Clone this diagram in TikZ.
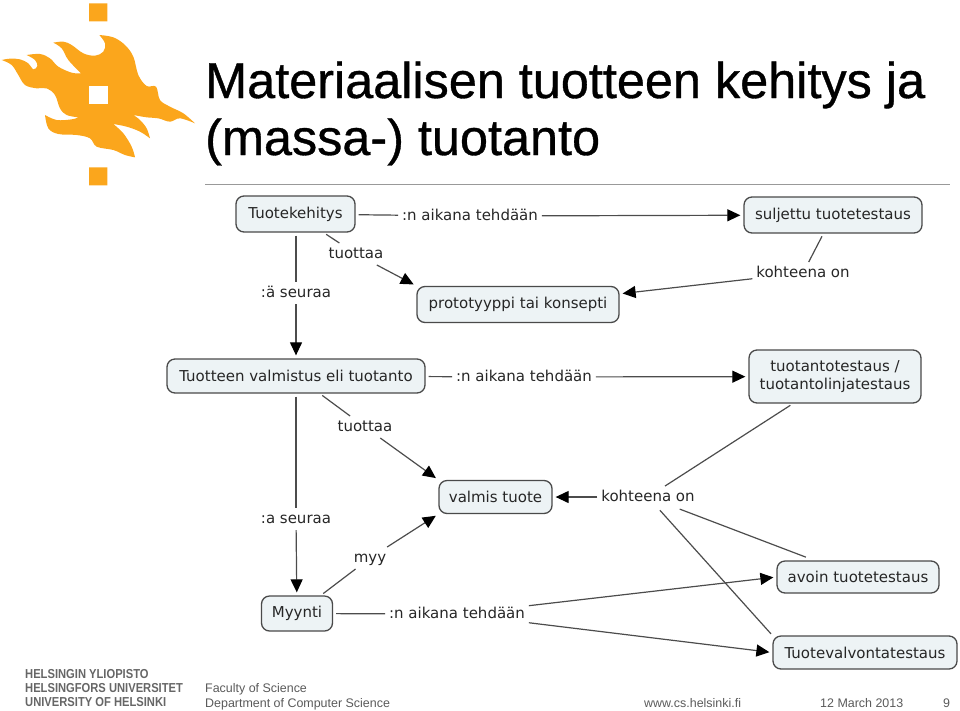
\documentclass[tikz,border=0pt]{standalone}
\usepackage{fontspec}
\setmainfont{Liberation Sans}
\newfontfamily\mapfont{DejaVu Sans}
\newfontfamily\headfont[FakeBold=0.7]{Liberation Sans}
\newfontfamily\unifont[FakeStretch=0.86]{Liberation Sans Bold}
\usetikzlibrary{arrows.meta}
\definecolor{flame}{HTML}{FBA61C}
\definecolor{boxfill}{HTML}{EDF3F5}
\definecolor{boxline}{HTML}{4A4A4A}
\definecolor{footgrey}{HTML}{5A5A5A}
\tikzset{
	concept/.style={draw=boxline,fill=boxfill,line width=1.3pt,rounded corners=8pt,inner sep=0pt,text=black!85,font=\mapfont\fontsize{15}{18}\selectfont,align=center},
	linkword/.style={inner sep=2pt,outer sep=2pt,yshift=-1pt,text=black!85,text height=11pt,text depth=3pt,font=\mapfont\fontsize{15}{18}\selectfont},
	link/.style={draw=black!70,line width=1.2pt,shorten <=3pt},
	linkto/.style={link,->,shorten <=0pt,shorten >=3pt},
	foot/.style={anchor=base west,inner sep=0pt,text=footgrey,font=\fontsize{12.45}{14}\selectfont},
	uni/.style={anchor=base west,inner sep=0pt,text=black!60,font=\unifont\fontsize{13}{14}\selectfont},
	heading/.style={anchor=base west,inner sep=0pt,font=\headfont\fontsize{50.4}{60}\selectfont}
}
\begin{document}
\begin{tikzpicture}[x=1pt,y=-1pt,>={Stealth[length=13pt,width=12pt,inset=0pt,black]},line join=round]
	\useasboundingbox (0,0) rectangle (960,710);
	% logo
	\begin{scope}[scale=1/3]
		\fill[flame] (267,10) rectangle (322,64) (267,502) rectangle (322,556);
		\fill[flame] plot[smooth,tension=.6] coordinates{(5,180)(30,176)(60,178)(85,190)(100,208)(112,198)(105,180)(80,165)}
			-- plot[smooth,tension=.6] coordinates{(80,165)(120,162)(150,175)(175,200)(215,218)(243,220)}
			-- plot[smooth,tension=.6] coordinates{(243,220)(205,180)(185,145)(160,128)}
			-- plot[smooth,tension=.6] coordinates{(160,128)(190,125)(215,135)(250,160)(285,167)(310,155)(315,130)(298,105)}
			-- plot[smooth,tension=.6] coordinates{(298,105)(340,112)(375,135)(400,170)(415,225)(440,258)(468,260)(480,300)(510,320)(550,340)(585,370)}
			-- plot[smooth,tension=.6] coordinates{(585,370)(540,355)(510,365)(475,355)(440,352)(400,345)}
			-- plot[smooth,tension=.6] coordinates{(400,345)(420,360)(440,385)(450,415)}
			-- plot[smooth,tension=.6] coordinates{(450,415)(420,395)(380,380)(340,372)}
			-- plot[smooth,tension=.6] coordinates{(340,372)(370,400)(395,440)(405,472)}
			-- plot[smooth,tension=.6] coordinates{(405,472)(375,465)(340,450)(290,440)(270,415)(230,405)(175,402)(145,385)(135,345)}
			-- plot[smooth,tension=.6] coordinates{(135,345)(170,360)(215,358)(235,352)}
			-- plot[smooth,tension=.6] coordinates{(235,352)(200,345)(180,325)(165,285)(140,265)(110,265)(75,255)(55,225)(35,195)(5,180)}
			-- cycle;
		\fill[white] (267,257) rectangle (323,311);
	\end{scope}
	% otsikko
	\path
	(205,98) node[heading] (otsikko1) {Materiaalisen tuotteen kehitys ja}
	(205,155) node[heading] (otsikko2) {(massa-) tuotanto};
	\draw[black!40,line width=.8pt] (205,184)--(950,184);
	% kaavio
	\path
	(295.5,214) node[concept,minimum width=119,minimum height=36] (tuotekehitys) {Tuotekehitys}
	(833,215) node[concept,minimum width=178,minimum height=36] (suljettu) {suljettu tuotetestaus}
	(518,304.5) node[concept,minimum width=202,minimum height=36] (prototyyppi) {prototyyppi tai konsepti}
	(296,376) node[concept,minimum width=258,minimum height=34] (valmistus) {Tuotteen valmistus eli tuotanto}
	(835,376.5) node[concept,minimum width=172,minimum height=53] (tuotantotestaus) {tuotantotestaus /\\tuotantolinjatestaus}
	(495.5,497) node[concept,minimum width=113,minimum height=33] (valmis) {valmis tuote}
	(297,613.5) node[concept,minimum width=71,minimum height=35] (myynti) {Myynti}
	(858,577) node[concept,minimum width=162,minimum height=32] (avoin) {avoin tuotetestaus}
	(865,652.5) node[concept,minimum width=184,minimum height=33] (valvonta) {Tuotevalvontatestaus}
	(470,215) node[linkword] (aikana1) {:n aikana tehdään}
	(356,253) node[linkword] (tuottaa1) {tuottaa}
	(296,292) node[linkword] (seuraa1) {:ä seuraa}
	(803,272) node[linkword] (kohde1) {kohteena on}
	(524,376) node[linkword] (aikana2) {:n aikana tehdään}
	(365,426) node[linkword] (tuottaa2) {tuottaa}
	(296,518) node[linkword] (seuraa2) {:a seuraa}
	(648,496) node[linkword] (kohde2) {kohteena on}
	(370,557) node[linkword] (myy) {myy}
	(457,613) node[linkword] (aikana3) {:n aikana tehdään};
	\draw[link] (tuotekehitys)--(aikana1);
	\draw[linkto] (aikana1)--(suljettu);
	\draw[link] (tuotekehitys)--(tuottaa1);
	\draw[linkto] (tuottaa1)--(prototyyppi.north west);
	\draw[link] (tuotekehitys.south -| seuraa1)--(seuraa1);
	\draw[linkto] (seuraa1)--(valmistus);
	\draw[link] (suljettu)--(kohde1);
	\draw[linkto] (kohde1)--(prototyyppi.6);
	\draw[link] (valmistus)--(aikana2);
	\draw[linkto] (aikana2)--(tuotantotestaus);
	\draw[link] (valmistus)--(tuottaa2);
	\draw[linkto] (tuottaa2)--(valmis.north west);
	\draw[link] (valmistus)--(seuraa2);
	\draw[linkto] (seuraa2)--(myynti);
	\draw[link] (myynti)--(myy);
	\draw[linkto] (myy)--(valmis.south west);
	\draw[link] (myynti)--(aikana3);
	\draw[linkto] (aikana3)--(avoin.west);
	\draw[linkto] (aikana3)--(valvonta.west);
	\draw[link] (tuotantotestaus)--(kohde2);
	\draw[linkto] (kohde2)--(valmis);
	\draw[link,shorten >=9pt] (kohde2)--(avoin);
	\draw[link,shorten >=2pt] (kohde2)--(valvonta.north west);
	% alaosa
	\path
	(25,678) node[uni] (hy1) {HELSINGIN YLIOPISTO}
	(25,692) node[uni] (hy2) {HELSINGFORS UNIVERSITET}
	(25,706.5) node[uni] (hy3) {UNIVERSITY OF HELSINKI}
	(205,692) node[foot] (faculty) {Faculty of Science}
	(205,707) node[foot] (dept) {Department of Computer Science}
	(644,707) node[foot] (www) {www.cs.helsinki.fi}
	(820,707) node[foot] (pvm) {12 March 2013}
	(943,707) node[foot] (sivu) {9};
\end{tikzpicture}
\end{document}
